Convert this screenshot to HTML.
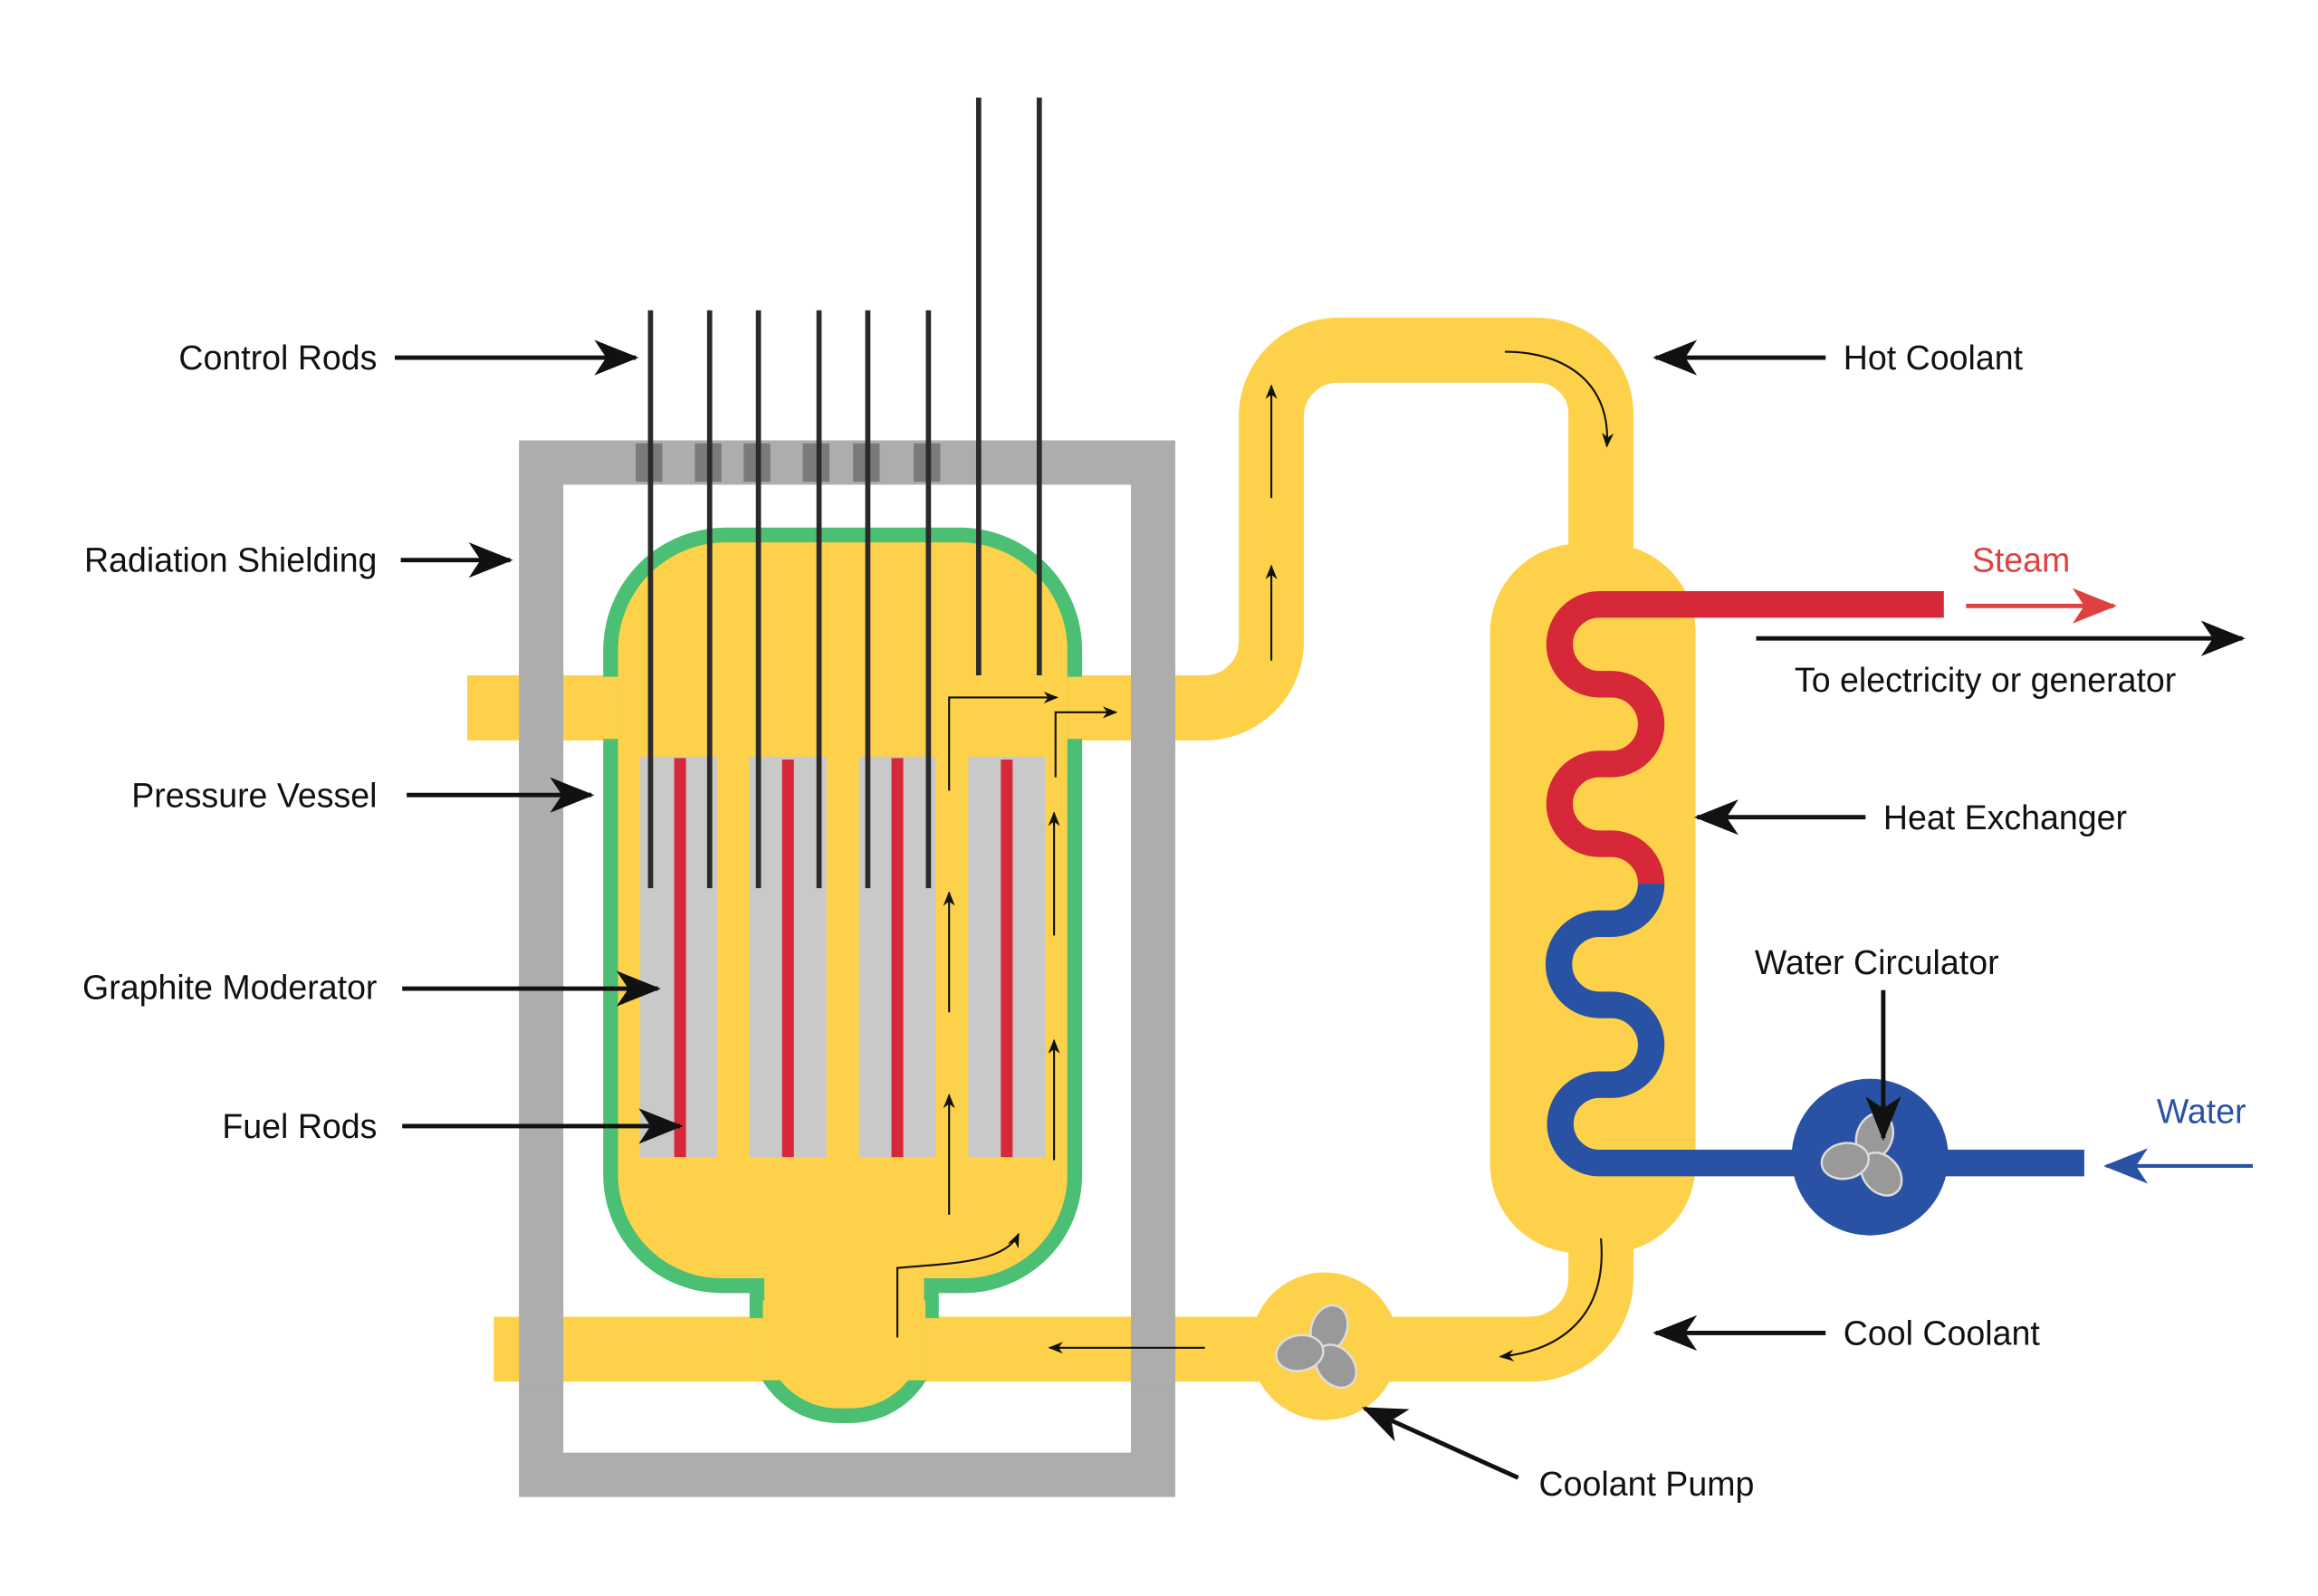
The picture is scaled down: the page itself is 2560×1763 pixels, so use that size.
<!DOCTYPE html>
<html><head><meta charset="utf-8"><style>html,body{margin:0;padding:0;background:#fff}svg{display:block}text{font-family:"Liberation Sans",sans-serif;font-size:23px;fill:#111}</style></head>
<body>
<svg width="2560" height="1763" viewBox="0 0 1568 1080" xmlns="http://www.w3.org/2000/svg">
<defs>
<marker id="big" viewBox="0 0 30 24" refX="28" refY="12" markerWidth="30" markerHeight="24" markerUnits="userSpaceOnUse" orient="auto"><path d="M0,0 L30,12 L0,24 L8,12 Z" fill="#111"/></marker>
<marker id="red" viewBox="0 0 30 24" refX="28" refY="12" markerWidth="30" markerHeight="24" markerUnits="userSpaceOnUse" orient="auto"><path d="M0,0 L30,12 L0,24 L8,12 Z" fill="#e0403f"/></marker>
<marker id="blue" viewBox="0 0 30 24" refX="28" refY="12" markerWidth="30" markerHeight="24" markerUnits="userSpaceOnUse" orient="auto"><path d="M0,0 L30,12 L0,24 L8,12 Z" fill="#2a52a4"/></marker>
<marker id="sm" viewBox="0 0 10 8" refX="9" refY="4" markerWidth="10" markerHeight="8" markerUnits="userSpaceOnUse" orient="auto"><path d="M0,0 L10,4 L0,8 L3,4 Z" fill="#111"/></marker>
<g id="fan">
<ellipse cx="0" cy="-15" rx="12" ry="16" fill="#999" stroke="#ddd" stroke-width="1.5" transform="rotate(20)"/>
<ellipse cx="0" cy="-15" rx="12" ry="16" fill="#999" stroke="#ddd" stroke-width="1.5" transform="rotate(140)"/>
<ellipse cx="0" cy="-15" rx="12" ry="16" fill="#999" stroke="#ddd" stroke-width="1.5" transform="rotate(260)"/>
</g>
</defs>

<rect x="366" y="313" width="414" height="685" fill="none" stroke="#adadad" stroke-width="30"/>
<g fill="#7a7a7a">
<rect x="430" y="300" width="18" height="26"/><rect x="470" y="300" width="18" height="26"/><rect x="503" y="300" width="18" height="26"/><rect x="543" y="300" width="18" height="26"/><rect x="577" y="300" width="18" height="26"/><rect x="618" y="300" width="18" height="26"/>
</g>

<path d="M334,913 H1035 A48,48 0 0 0 1083,865 V800" fill="none" stroke="#fdd24a" stroke-width="44"/>
<path d="M316,479 H815 A45,45 0 0 0 860,434 V280 A45,45 0 0 1 905,237 H1040 A43,43 0 0 1 1083,280 V400" fill="none" stroke="#fdd24a" stroke-width="44"/>

<path d="M413,440 A78,78 0 0 1 491,362 H649 A78,78 0 0 1 727,440 V795 A75,75 0 0 1 652,870 H630 V905 A55,55 0 0 1 575,958 H567 A55,55 0 0 1 512,905 V870 H488 A75,75 0 0 1 413,795 Z" fill="#fdd24a" stroke="#4bbf73" stroke-width="10"/>
<rect x="316" y="458" width="102" height="42" fill="#fdd24a"/>
<rect x="722" y="458" width="100" height="42" fill="#fdd24a"/>
<rect x="334" y="892" width="182" height="42" fill="#fdd24a"/>
<rect x="626" y="892" width="230" height="42" fill="#fdd24a"/>
<rect x="516" y="880" width="110" height="54" fill="#fdd24a"/>
<rect x="351" y="450" width="30" height="60" fill="#adadad"/>
<rect x="765" y="450" width="30" height="60" fill="#adadad"/>
<rect x="351" y="885" width="30" height="55" fill="#adadad"/>
<rect x="765" y="885" width="30" height="55" fill="#adadad"/>

<g fill="#c9c9c9"><rect x="433" y="512" width="52" height="271"/><rect x="507" y="512" width="52" height="271"/><rect x="581" y="512" width="52" height="271"/><rect x="655" y="512" width="52" height="271"/></g>
<g fill="#d62839"><rect x="456" y="513" width="8" height="270"/><rect x="529" y="514" width="8" height="269"/><rect x="603" y="513" width="8" height="270"/><rect x="677" y="514" width="8" height="269"/></g>

<g stroke="#2a2a2a" stroke-width="3.5">
<line x1="440" y1="210" x2="440" y2="601"/><line x1="480" y1="210" x2="480" y2="601"/><line x1="513" y1="210" x2="513" y2="601"/><line x1="554" y1="210" x2="554" y2="601"/><line x1="587" y1="210" x2="587" y2="601"/><line x1="628" y1="210" x2="628" y2="601"/>
<line x1="662" y1="66" x2="662" y2="457"/><line x1="703" y1="66" x2="703" y2="457"/>
</g>

<rect x="1008" y="368" width="139" height="480" rx="60" fill="#fdd24a"/>
<path d="M1315,409 H1082 A27,27 0 0 0 1082,463 H1090 A27,27 0 0 1 1090,517 H1082 A27,27 0 0 0 1082,571 H1090 A27,27 0 0 1 1117,598" fill="none" stroke="#d62839" stroke-width="18"/>
<path d="M1117,598 A27,27 0 0 1 1090,625 H1082 A27,27 0 0 0 1082,680 H1090 A27,27 0 0 1 1090,734 H1082 A26.5,26.5 0 0 0 1082,787 H1410" fill="none" stroke="#2a52a4" stroke-width="18"/>

<circle cx="1265" cy="783" r="53" fill="#2a52a4"/>
<use href="#fan" transform="translate(1263,783)"/>
<circle cx="896" cy="911" r="50" fill="#fdd24a"/>
<use href="#fan" transform="translate(894,913)"/>

<g fill="none" stroke="#111" stroke-width="1.3" marker-end="url(#sm)">
<path d="M642,535 V472 H715"/>
<path d="M714,526 V482 H755"/>
<path d="M642,685 V604"/><path d="M642,822 V741"/>
<path d="M713,633 V550"/><path d="M713,785 V704"/>
<path d="M607,905 V858 C640,855 680,855 689,835"/>
<path d="M815,912 H710"/>
<path d="M860,337 V261"/><path d="M860,447 V383"/>
<path d="M1018,238 C1060,238 1090,260 1087,302"/>
<path d="M1083,838 C1088,895 1050,915 1015,918"/>
</g>

<g stroke="#111" stroke-width="3" marker-end="url(#big)">
<line x1="267" y1="242" x2="430" y2="242"/>
<line x1="271" y1="379" x2="345" y2="379"/>
<line x1="275" y1="538" x2="400" y2="538"/>
<line x1="272" y1="669" x2="445" y2="669"/>
<line x1="272" y1="762" x2="460" y2="762"/>
<line x1="1235" y1="242" x2="1120" y2="242"/>
<line x1="1262" y1="553" x2="1148" y2="553"/>
<line x1="1235" y1="902" x2="1120" y2="902"/>
<line x1="1027" y1="1000" x2="923" y2="953"/>
<line x1="1274" y1="670" x2="1274" y2="770"/>
<line x1="1188" y1="432" x2="1517" y2="432"/>
</g>
<line x1="1330" y1="410" x2="1430" y2="410" stroke="#e0403f" stroke-width="3" marker-end="url(#red)"/>
<line x1="1524" y1="789" x2="1425" y2="789" stroke="#2a52a4" stroke-width="2.5" marker-end="url(#blue)"/>

<g text-anchor="end">
<text x="255" y="250">Control Rods</text>
<text x="255" y="387">Radiation Shielding</text>
<text x="255" y="546">Pressure Vessel</text>
<text x="255" y="676">Graphite Moderator</text>
<text x="255" y="770">Fuel Rods</text>
</g>
<text x="1247" y="250">Hot Coolant</text>
<text x="1334" y="387" style="fill:#e0403f">Steam</text>
<text x="1214" y="468">To electricity or generator</text>
<text x="1274" y="561">Heat Exchanger</text>
<text x="1187" y="659">Water Circulator</text>
<text x="1459" y="760" style="fill:#2a52a4">Water</text>
<text x="1247" y="910">Cool Coolant</text>
<text x="1041" y="1012">Coolant Pump</text>
</svg>
</body></html>
